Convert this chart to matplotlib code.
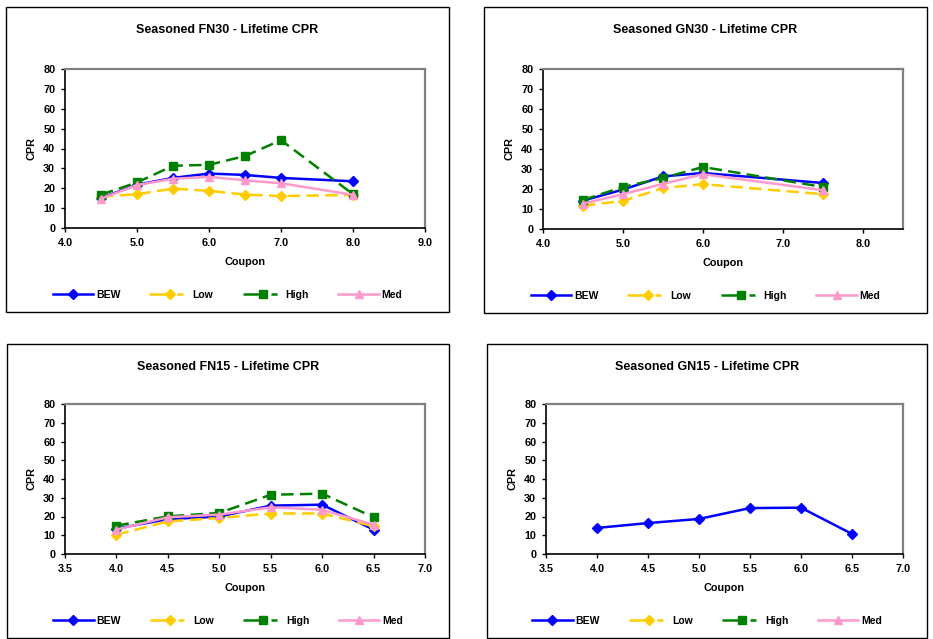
import matplotlib
matplotlib.use("Agg")
import matplotlib.pyplot as plt
from matplotlib.lines import Line2D
from matplotlib.patches import Rectangle

plt.rcParams['font.family'] = ['Liberation Sans', 'DejaVu Sans']
plt.rcParams['font.weight'] = 'bold'
plt.rcParams['font.size'] = 7.8

# Seasoned FN30
fn30_coupon = [4.5, 5.0, 5.5, 6.0, 6.5, 7.0, 8.0]
fn30_bew = [15.1, 21.8, 25.2, 27.4, 26.7, 25.2, 23.5]
fn30_low = [15.8, 17.0, 19.8, 18.7, 16.8, 16.1, 16.6]
fn30_high = [16.8, 22.9, 31.3, 31.8, 36.2, 44.2, 17.0]
fn30_med = [14.8, 21.6, 24.8, 25.7, 24.0, 22.5, 16.7]

# Seasoned GN30
gn30_coupon = [4.5, 5.0, 5.5, 6.0, 7.5]
gn30_bew = [14.2, 19.7, 26.3, 28.0, 23.0]
gn30_low = [11.7, 14.0, 20.5, 22.4, 17.4]
gn30_high = [14.5, 21.0, 25.5, 31.0, 21.0]
gn30_med = [12.7, 17.4, 22.6, 27.4, 19.4]

# Seasoned FN15
fn15_coupon = [4.0, 4.5, 5.0, 5.5, 6.0, 6.5]
fn15_bew = [13.5, 18.6, 20.0, 25.8, 26.3, 13.0]
fn15_low = [10.3, 17.4, 19.2, 21.6, 21.6, 14.8]
fn15_high = [15.1, 20.1, 21.9, 31.6, 32.2, 19.6]
fn15_med = [13.0, 19.6, 21.0, 24.9, 23.6, 15.6]

# Seasoned GN15 (only BEW has data)
gn15_coupon = [4.0, 4.5, 5.0, 5.5, 6.0, 6.5]
gn15_bew = [13.9, 16.5, 18.7, 24.5, 24.7, 10.7]

series_names = ['BEW', 'Low', 'High', 'Med']
styles = {
    'BEW': dict(color='#0000FF', marker='D', markersize=5, ls='-'),
    'Low': dict(color='#FFCC00', marker='D', markersize=5, ls=(0, (5, 2.5))),
    'High': dict(color='#008000', marker='s', markersize=6, ls=(0, (5, 2.5))),
    'Med': dict(color='#FF99CC', marker='^', markersize=6, ls='-'),
}
# legend swatches: the dashed ones show a long dash, a short dash, then a gap
legend_ls = {'BEW': '-', 'Low': (0, (9.6, 1.6, 2.4, 4)),
             'High': (0, (9.6, 1.6, 2.4, 4)), 'Med': '-'}

W, H = 933, 639
fig = plt.figure(figsize=(W / 100, H / 100), dpi=100)
fig.patch.set_facecolor('white')


def px_rect(l, t, r, b):
    return [l / W, 1 - b / H, (r - l) / W, (b - t) / H]


panels = [
    dict(title='Seasoned FN30 - Lifetime CPR', x=fn30_coupon,
         data={'BEW': fn30_bew, 'Low': fn30_low, 'High': fn30_high, 'Med': fn30_med},
         xlim=(4.0, 9.0), xticks=[4.0, 5.0, 6.0, 7.0, 8.0, 9.0],
         box=(6, 7, 449, 312), ax=(65, 69, 425, 228)),
    dict(title='Seasoned GN30 - Lifetime CPR', x=gn30_coupon,
         data={'BEW': gn30_bew, 'Low': gn30_low, 'High': gn30_high, 'Med': gn30_med},
         xlim=(4.0, 8.5), xticks=[4.0, 5.0, 6.0, 7.0, 8.0],
         box=(484, 7, 927, 313), ax=(543, 69, 903, 229)),
    dict(title='Seasoned FN15 - Lifetime CPR', x=fn15_coupon,
         data={'BEW': fn15_bew, 'Low': fn15_low, 'High': fn15_high, 'Med': fn15_med},
         xlim=(3.5, 7.0), xticks=[3.5, 4.0, 4.5, 5.0, 5.5, 6.0, 6.5, 7.0],
         box=(7, 344, 449, 638), ax=(65, 404, 425, 554)),
    dict(title='Seasoned GN15 - Lifetime CPR', x=gn15_coupon,
         data={'BEW': gn15_bew, 'Low': [], 'High': [], 'Med': []},
         xlim=(3.5, 7.0), xticks=[3.5, 4.0, 4.5, 5.0, 5.5, 6.0, 6.5, 7.0],
         box=(487, 344, 927, 638), ax=(546, 404, 903, 554)),
]

for p in panels:
    bl, bt, br, bb = p['box']
    fig.add_artist(Rectangle((bl / W, 1 - bb / H), (br - bl) / W, (bb - bt) / H,
                             transform=fig.transFigure, fill=False,
                             edgecolor='black', linewidth=1.0))

    ax = fig.add_axes(px_rect(*p['ax']))
    handles = []
    for name in series_names:
        st = styles[name]
        ys = p['data'][name]
        xs = p['x'][:len(ys)]
        ax.plot(xs, ys, color=st['color'], ls=st['ls'], lw=1.8,
                marker=st['marker'], markersize=st['markersize'],
                markeredgecolor=st['color'], clip_on=False)
        handles.append(Line2D([], [], color=st['color'], ls=legend_ls[name], lw=1.8,
                              marker=st['marker'], markersize=st['markersize'],
                              markeredgecolor=st['color']))

    ax.set_xlim(*p['xlim'])
    ax.set_ylim(0, 80)
    ax.set_yticks(range(0, 81, 10))
    ax.set_xticks(p['xticks'])
    ax.set_xticklabels(['%.1f' % v for v in p['xticks']])
    ax.tick_params(direction='out', length=3, width=1, pad=4, labelsize=7.8)

    for side in ('top', 'right'):
        ax.spines[side].set_color('#808080')
        ax.spines[side].set_linewidth(1.6)
    for side in ('left', 'bottom'):
        ax.spines[side].set_color('black')
        ax.spines[side].set_linewidth(1.2)

    ax.set_xlabel('Coupon', fontsize=7.8, fontweight='bold', labelpad=7)
    ax.set_ylabel('CPR', fontsize=7.8, fontweight='bold', labelpad=5)

    cx = (bl + br) / 2 / W
    fig.text(cx, 1 - (bt + 23) / H, p['title'], ha='center', va='center',
             fontsize=9, fontweight='bold')

    fig.legend(handles, series_names, loc='center',
               bbox_to_anchor=(cx, 1 - (bb - 17) / H), ncol=4, frameon=False,
               handlelength=3.9, handletextpad=0.25, columnspacing=2.8,
               numpoints=1, fontsize=7.5)

fig.savefig('out.png', dpi=100, facecolor='white')
